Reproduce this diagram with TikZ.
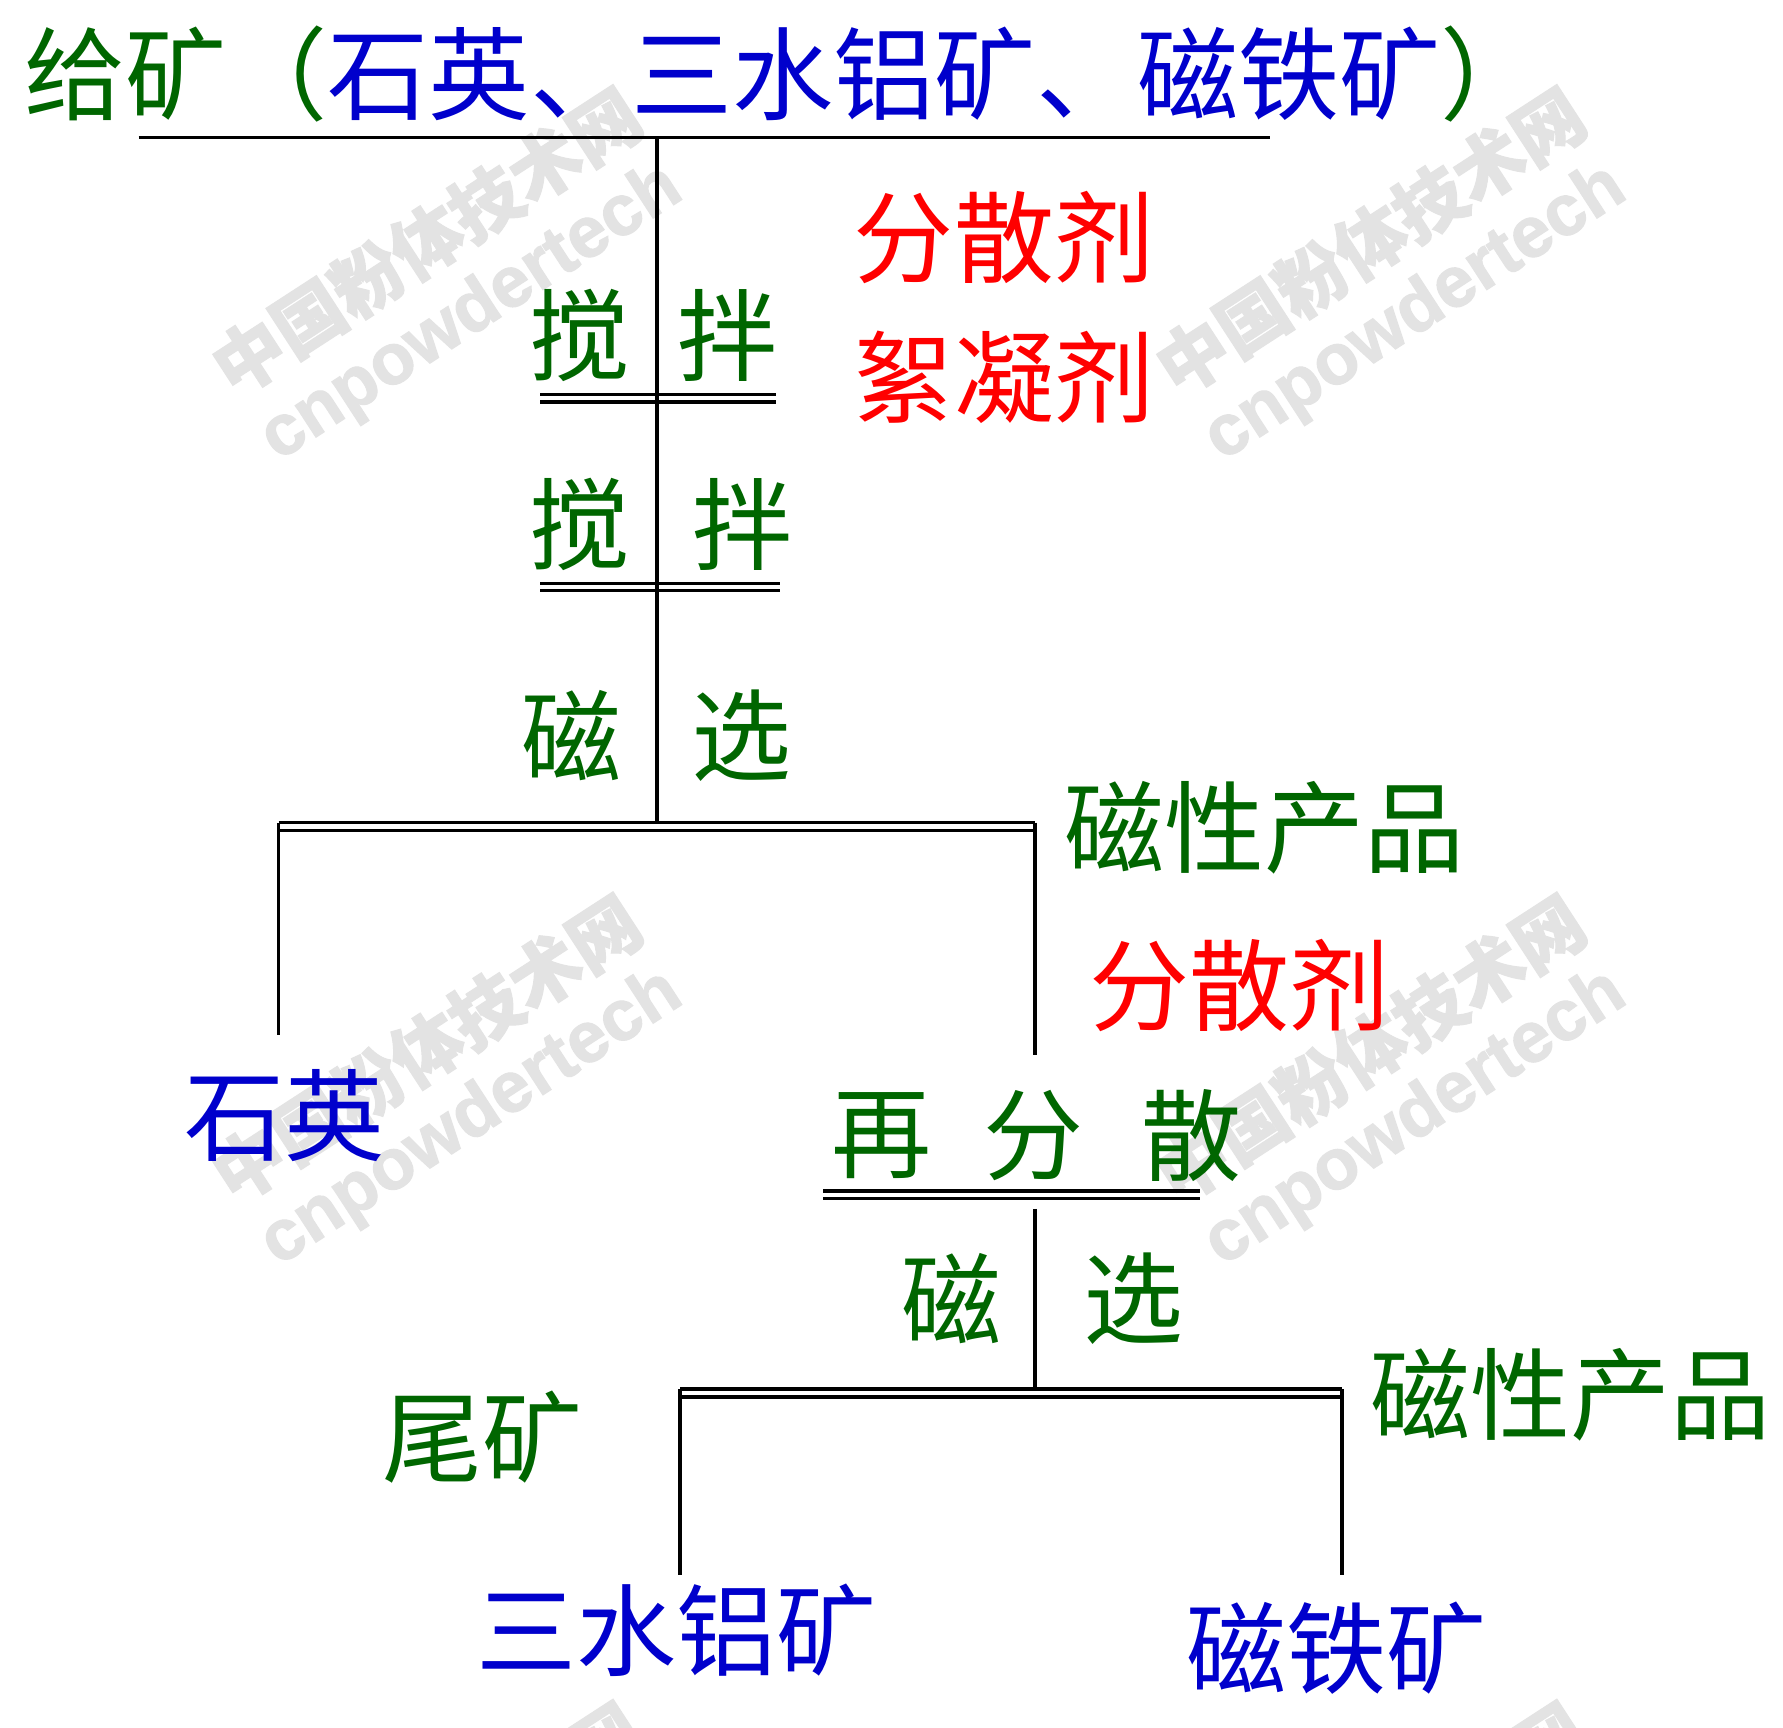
\documentclass[tikz,border=0pt]{standalone}
\usepackage{fontspec}
\newfontfamily\cjk{Noto Sans CJK SC}
\newfontfamily\wmcjk[FakeBold=1.5]{Noto Sans CJK SC}
\newfontfamily\wmfont[FakeBold=1.5]{Liberation Sans}
\definecolor{dgreen}{HTML}{006600}
\definecolor{dblue}{HTML}{0000CC}
\definecolor{dred}{HTML}{FF0000}
\definecolor{wmgray}{HTML}{E3E3E3}
\begin{document}
\begin{tikzpicture}[x=1pt,y=-1pt,
  txt/.style={inner sep=0pt, font=\cjk\fontsize{88}{92}\selectfont},
  gt/.style={txt, text=dgreen},
  bt/.style={txt, text=dblue},
  rt/.style={txt, text=dred},
  ln/.style={line width=3.3pt, black},
  dl/.style={line width=3pt, black},
  wmcn/.style={inner sep=0pt, text=wmgray, rotate=33, font=\wmcjk\bfseries\fontsize{62}{62}\selectfont},
  wmen/.style={inner sep=0pt, text=wmgray, rotate=33, font=\wmfont\bfseries\fontsize{63}{63}\selectfont}]
\useasboundingbox (0,0) rectangle (1568,1519);
\fill[white] (0,0) rectangle (1568,1519);

% watermarks
\node[wmcn] (w1a) at (375,212) {中国粉体技术网};
\node[wmen] (w1b) at (415,276) {cnpowdertech};
\node[wmcn] (w2a) at (1205,212) {中国粉体技术网};
\node[wmen] (w2b) at (1245,276) {cnpowdertech};
\node[wmcn] (w3a) at (375,922) {中国粉体技术网};
\node[wmen] (w3b) at (415,984) {cnpowdertech};
\node[wmcn] (w4a) at (1205,922) {中国粉体技术网};
\node[wmen] (w4b) at (1245,984) {cnpowdertech};
\node[wmcn] (w5a) at (375,1632) {中国粉体技术网};
\node[wmcn] (w6a) at (1205,1632) {中国粉体技术网};

% title
\node[inner sep=0pt, font=\cjk\fontsize{89}{92}\selectfont, anchor=west] (title) at (21,65) {\textcolor{dgreen}{给矿（}\textcolor{dblue}{石英、三水铝矿、磁铁矿}\textcolor{dgreen}{）}};

% coordinates
\coordinate (t1) at (122,121);
\coordinate (t2) at (1117,121);
\coordinate (v1top) at (578,121);
\coordinate (v1bot) at (578,724);

% top line and main vertical
\draw[ln] (t1) -- (t2);
\draw[ln] (v1top) -- (v1bot);

% stir 1
\node[gt] (s1a) at (510,295) {搅};
\node[gt] (s1b) at (640,295) {拌};
\coordinate (d1l) at (475,347);
\coordinate (d1r) at (682,347);
\draw[dl] (d1l) -- (d1r);
\draw[dl] ([yshift=-6.5pt]d1l) -- ([yshift=-6.5pt]d1r);

% reagents
\node[rt] (r1) at (883,209) {分散剂};
\node[rt] (r2) at (883,332) {絮凝剂};

% stir 2
\node[gt] (s2a) at (510,461) {搅};
\node[gt] (s2b) at (653,461) {拌};
\coordinate (d2l) at (475,513);
\coordinate (d2r) at (686,513);
\draw[dl] (d2l) -- (d2r);
\draw[dl] ([yshift=-6.5pt]d2l) -- ([yshift=-6.5pt]d2r);

% magnetic separation 1
\node[gt] (m1a) at (503,647) {磁};
\node[gt] (m1b) at (652,647) {选};
\coordinate (d3l) at (245,723.5);
\coordinate (d3r) at (910,723.5);
\draw[dl] (d3l) -- (d3r);
\draw[dl] ([yshift=-7pt]d3l) -- ([yshift=-7pt]d3r);
\coordinate (q1) at (245,910);
\coordinate (q2) at (910,928);
\draw[ln] (d3l) -- (q1);
\draw[ln] (d3r) -- (q2);

\node[gt] (mp1) at (1112,728) {磁性产品};
\node[rt] (r3) at (1090,867) {分散剂};
\node[bt] (quartz) at (250,981) {石英};

% redisperse
\node[gt] (rd1) at (775,999) {再};
\node[gt] (rd2) at (909,999) {分};
\node[gt] (rd3) at (1048,999) {散};
\coordinate (d4l) at (724,1047.5);
\coordinate (d4r) at (1055,1047.5);
\draw[dl] (d4l) -- (d4r);
\draw[dl] ([yshift=-6.5pt]d4l) -- ([yshift=-6.5pt]d4r);
\coordinate (v2top) at (910,1063);
\coordinate (v2bot) at (910,1222);
\draw[ln] (v2top) -- (v2bot);

% magnetic separation 2
\node[gt] (m2a) at (837,1142) {磁};
\node[gt] (m2b) at (997,1142) {选};
\coordinate (d5l) at (598,1221.5);
\coordinate (d5r) at (1180,1221.5);
\draw[dl] (d5l) -- (d5r);
\draw[dl] ([yshift=-7pt]d5l) -- ([yshift=-7pt]d5r);
\coordinate (p1) at (598,1385);
\coordinate (p2) at (1180,1385);
\draw[ln] (d5l) -- (p1);
\draw[ln] (d5r) -- (p2);

\node[gt] (mp2) at (1381,1227) {磁性产品};
\node[gt] (tail) at (424,1264) {尾矿};
\node[bt] (gibb) at (595,1434) {三水铝矿};
\node[bt] (magn) at (1175,1449) {磁铁矿};
\end{tikzpicture}
\end{document}
